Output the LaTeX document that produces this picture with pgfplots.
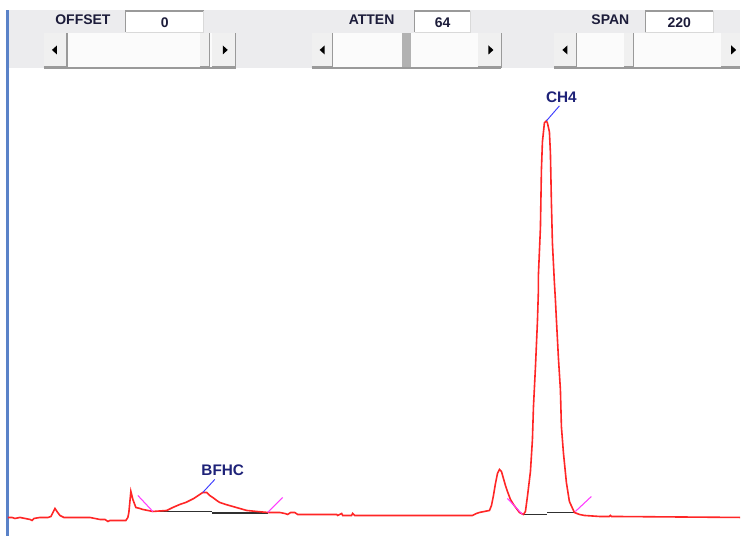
\documentclass[border=0pt]{standalone}
\usepackage{pgfplots}
\pgfplotsset{compat=1.18}
\usepackage{fontspec}
\setmainfont{Liberation Sans}
\definecolor{panel}{HTML}{ECECEE}
\definecolor{trace}{HTML}{FF2626}
\definecolor{frame}{HTML}{5A82C8}
\definecolor{lab}{HTML}{1E2278}
\definecolor{gui}{HTML}{1C1C3A}
\definecolor{btn}{HTML}{F0F0F0}
\definecolor{shad}{HTML}{9A9A9A}
\definecolor{mag}{HTML}{FF3CFF}
\definecolor{pk}{HTML}{3C3CFF}
\definecolor{base}{HTML}{303030}
\begin{document}
\begin{tikzpicture}
\begin{axis}[scale only axis, width=555.75pt, height=402.75pt,
  xmin=0, xmax=741, ymin=0, ymax=537, y dir=reverse, hide axis, clip=false]
% background and panel
\fill[white] (0,0) rectangle (741,537);
\fill[panel] (9,10) rectangle (741,68);
\fill[frame] (6.5,10) rectangle (9.5,537);
% value boxes
\fill[white] (126,11) rectangle (204,32);
\draw[shad,line width=0.8pt] (126,32) -- (126,11) -- (204,11);
\draw[black!15,line width=0.6pt] (204,11) -- (204,32) -- (126,32);
\fill[white] (415,11) rectangle (471,32);
\draw[shad,line width=0.8pt] (415,32) -- (415,11) -- (471,11);
\draw[black!15,line width=0.6pt] (471,11) -- (471,32) -- (415,32);
\fill[white] (646,11) rectangle (714,32);
\draw[shad,line width=0.8pt] (646,32) -- (646,11) -- (714,11);
\draw[black!15,line width=0.6pt] (714,11) -- (714,32) -- (646,32);
% scrollbar 1
\fill[white!97!gray] (44,33) rectangle (236,67);
\fill[btn] (44,33) rectangle (67,67);
\draw[shad,line width=1pt] (44,67) -- (67,67) -- (67,33);
\fill[black] (52,50) -- (57,45.5) -- (57,54.5) -- cycle;
\fill[btn] (200,33) rectangle (210,67);
\draw[shad,line width=1pt] (200,67) -- (210,67) -- (210,33);
\fill[btn] (212,33) rectangle (236,67);
\draw[shad,line width=1pt] (212,67) -- (236,67) -- (236,33);
\fill[black] (228,50) -- (223,45.5) -- (223,54.5) -- cycle;
\draw[shad,line width=1pt] (44,68) -- (236,68);
% scrollbar 2
\fill[white!97!gray] (312,33) rectangle (502,67);
\fill[btn] (312,33) rectangle (333,67);
\draw[shad,line width=1pt] (312,67) -- (333,67) -- (333,33);
\fill[black] (320,50) -- (325,45.5) -- (325,54.5) -- cycle;
\fill[gray!60] (402,33) rectangle (411,67);
\fill[btn] (479,33) rectangle (502,67);
\draw[shad,line width=1pt] (479,67) -- (502,67) -- (502,33);
\fill[black] (494,50) -- (489,45.5) -- (489,54.5) -- cycle;
\draw[shad,line width=1pt] (312,68) -- (502,68);
% scrollbar 3
\fill[white!97!gray] (555,33) rectangle (741,67);
\fill[btn] (555,33) rectangle (577,67);
\draw[shad,line width=1pt] (555,67) -- (577,67) -- (577,33);
\fill[black] (563,50) -- (568,45.5) -- (568,54.5) -- cycle;
\fill[btn] (625,33) rectangle (634,67);
\draw[shad,line width=1pt] (625,67) -- (634,67) -- (634,33);
\fill[btn] (722,33) rectangle (741,67);
\draw[shad,line width=1pt] (722,67) -- (741,67);
\fill[black] (737,50) -- (732,45.5) -- (732,54.5) -- cycle;
\draw[shad,line width=1pt] (555,68) -- (741,68);
% GUI labels
\node[font=\bfseries\fontsize{10.5}{12}\selectfont, text=gui] at (83,20) {OFFSET};
\node[font=\bfseries\fontsize{10.5}{12}\selectfont, text=gui] at (372,20) {ATTEN};
\node[font=\bfseries\fontsize{10.5}{12}\selectfont, text=gui] at (611,20) {SPAN};
\node[font=\bfseries\fontsize{10.5}{12}\selectfont, text=gui] at (165,23) {0};
\node[font=\bfseries\fontsize{10.5}{12}\selectfont, text=gui] at (443,23) {64};
\node[font=\bfseries\fontsize{10.5}{12}\selectfont, text=gui] at (680,23) {220};
% integration baselines
\addplot[base, line width=1.4pt] coordinates {(153,512) (212,512)};
\addplot[base, line width=1.4pt] coordinates {(212,513.5) (268,513.5)};
\addplot[base, line width=1.4pt] coordinates {(524,515) (548,515)};
\addplot[base, line width=1.4pt] coordinates {(548,513) (575,513)};
% chromatogram trace
\addplot[trace, line width=1.2pt] coordinates {
(8,518) (12,518) (15,519) (20,518) (25,519) (30,520) (32,521) (34,519) (40,518)
(48,518) (51,517) (53,513) (55,509) (57,512) (60,516) (64,518) (70,518) (90,518)
(100,520) (105,520) (108,522) (110,521) (126,521) (128,518) (129,513) (131,492)
(133,500) (136,508) (140,509) (143,510) (148,511) (153,512) (160,511.5) (167,511)
(173,508) (180,505) (186,503) (190,501) (194,499) (197,497) (200,495) (203,493)
(207,493) (210,496) (213,498) (217,501) (220,503) (226,505) (233,507) (240,509)
(247,511) (257,512) (268,513) (275,513) (280,513) (285,514) (288,515) (291,513)
(295,513) (298,515) (337,515) (338,516) (342,514) (343,516) (352,516) (353,514)
(355,516) (473,516) (477,514) (480,513) (485,512) (490,511) (492,506) (494,496)
(496,484) (498,474) (500,470) (502,472) (504,479) (506,486) (508,492) (511,500)
(514,505) (517,509) (520,513) (522,514) (524,515) (526,512) (528,497) (531,472)
(533,440) (534,408) (536,368) (538,322) (539,290) (539,275) (541,228) (542,170)
(543,142) (545,123) (547,121) (548,123) (550,132) (551,153) (552,203) (553,243)
(555,283) (556,300) (557,320) (559,358) (561,390) (562,427) (564,453) (567,483)
(570,502) (575,513) (580,515) (585,516) (600,517) (610,517) (611,516) (612,517)
(741,518)};
% peak start/end markers
\addplot[mag, line width=0.8pt] coordinates {(138,496) (153,512)};
\addplot[mag, line width=0.8pt] coordinates {(268,513) (283,498)};
\addplot[mag, line width=0.8pt] coordinates {(508,499) (523,515)};
\addplot[mag, line width=0.8pt] coordinates {(576,512) (592,497)};
% peak labels
\addplot[pk, line width=0.7pt] coordinates {(203,493) (215,480)};
\addplot[pk, line width=0.7pt] coordinates {(547,121) (560,106)};
\node[font=\bfseries\fontsize{11.5}{14}\selectfont, text=lab] at (223,471) {BFHC};
\node[font=\bfseries\fontsize{11.5}{14}\selectfont, text=lab] at (562,97) {CH4};
\end{axis}
\end{tikzpicture}
\end{document}
